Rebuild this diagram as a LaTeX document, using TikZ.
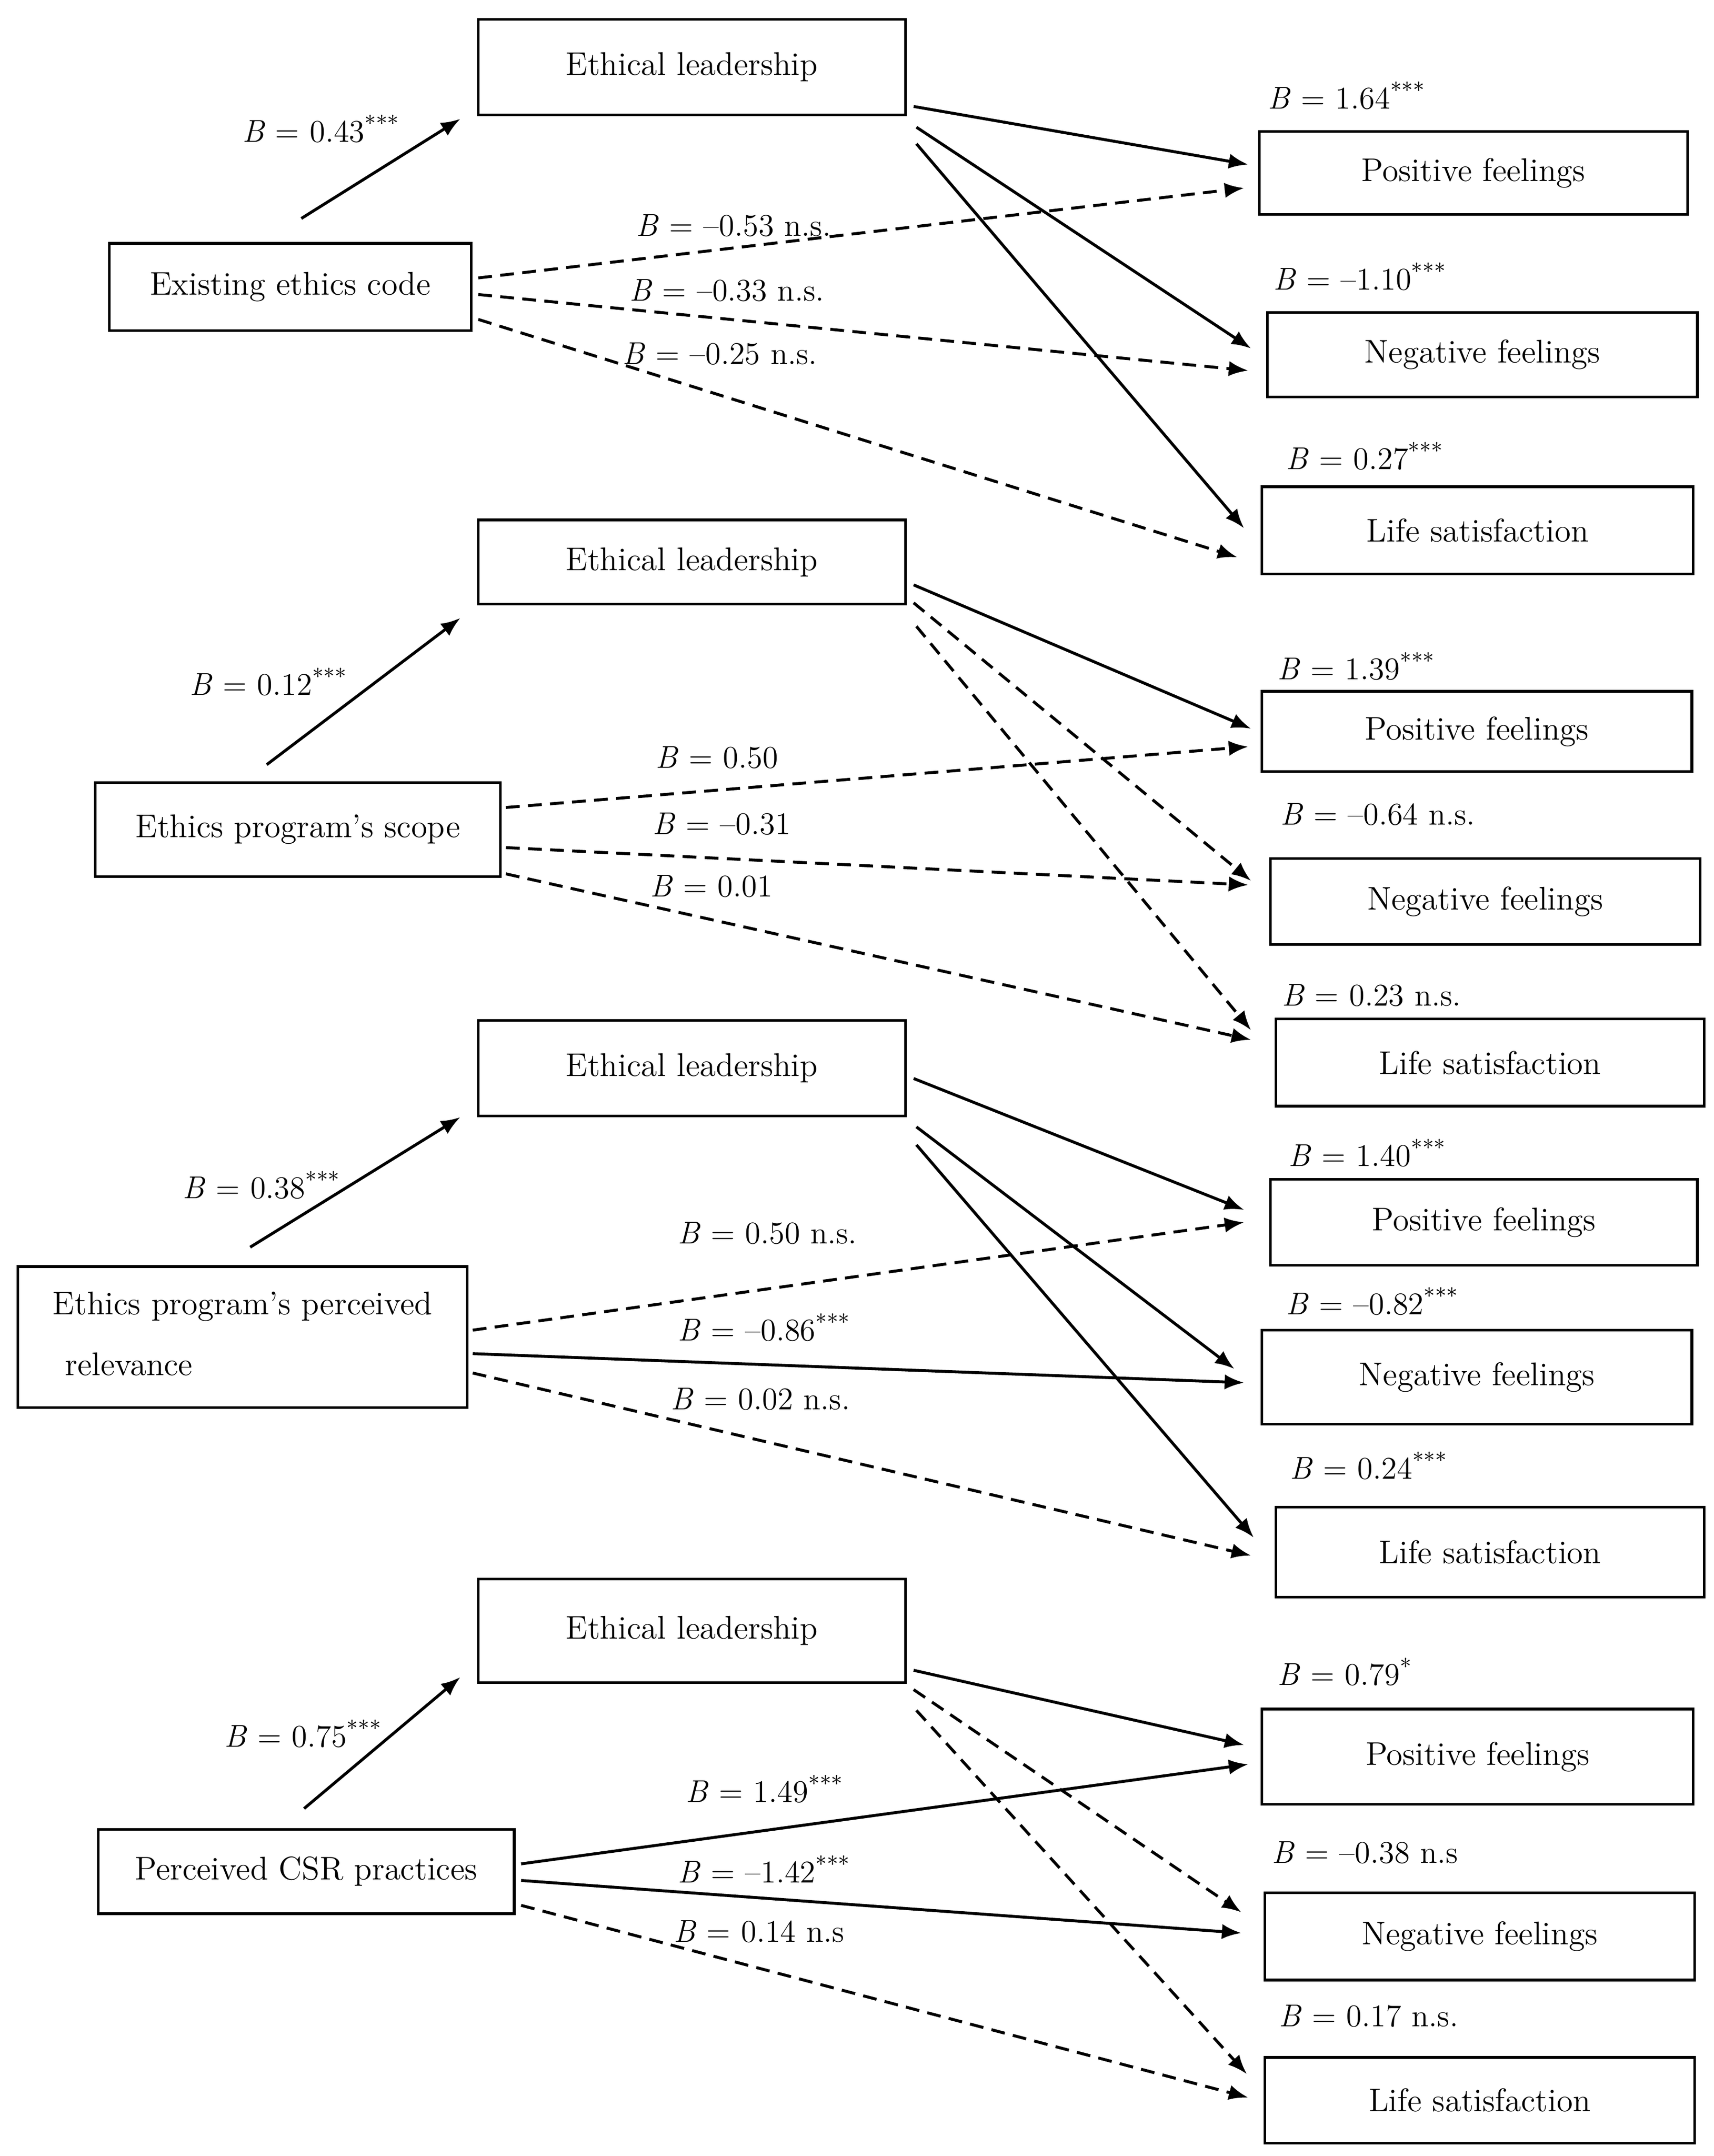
\documentclass[tikz,border=0pt]{standalone}
\usetikzlibrary{arrows.meta}
\newcommand\mybox[6]{%
  \pgfmathsetmacro\mybw{(#4-#2)*0.02}%
  \pgfmathsetmacro\mybh{(#5-#3)*0.02}%
  \node[box, minimum width=\mybw cm, minimum height=\mybh cm] (#1) at ({(#2+#4)/2},{(#3+#5)/2}) {#6};}
\begin{document}
\begin{tikzpicture}[x=0.02cm,y=-0.02cm,
  box/.style={draw, line width=1.1pt, inner sep=0pt, outer sep=0pt, font=\fontsize{13.5}{16}\selectfont},
  lbl/.style={anchor=west, inner sep=0pt, font=\fontsize{13}{16}\selectfont},
  conn/.style={line width=1.2pt, -{Latex[length=0.28cm,width=0.22cm]}},
  dsh/.style={conn, dash pattern=on 0.2cm off 0.12cm}]
\useasboundingbox (0,0) rectangle (1240,1559.3);

% ---------- Section 1 ----------
\mybox{el1}{346}{14}{655}{83}{Ethical leadership}
\mybox{ec}{79}{176}{341}{239}{Existing ethics code}
\mybox{pf1}{911}{95}{1221}{155}{Positive feelings}
\mybox{nf1}{917}{226}{1228}{287}{Negative feelings}
\mybox{ls1}{913}{352}{1225}{415}{Life satisfaction}

\draw[conn] ([shift={(8,-18)}]ec.north) -- ([shift={(-13,3)}]el1.south west);
\draw[conn] ([shift={(6,-6)}]el1.south east) -- ([shift={(-8,24)}]pf1.north west);
\draw[conn] ([shift={(8,9)}]el1.south east) -- ([shift={(-12,26)}]nf1.north west);
\draw[conn] ([shift={(8,21)}]el1.south east) -- ([shift={(-13,30)}]ls1.north west);
\draw[dsh] ([shift={(5,25)}]ec.north east) -- ([shift={(-11,41)}]pf1.north west);
\draw[dsh] ([shift={(5,37)}]ec.north east) -- ([shift={(-14,42)}]nf1.north west);
\draw[dsh] ([shift={(5,55)}]ec.north east) -- ([shift={(-18,51)}]ls1.north west);

\node[lbl] (l1a) at (175,93) {\textit{B} = 0.43\textsuperscript{***}};
\node[lbl] (l1b) at (917,69) {\textit{B} = 1.64\textsuperscript{***}};
\node[lbl] (l1c) at (921,200) {\textit{B} = --1.10\textsuperscript{***}};
\node[lbl] (l1d) at (930,330) {\textit{B} = 0.27\textsuperscript{***}};
\node[lbl] (l1e) at (460,163) {\textit{B} = --0.53 n.s.};
\node[lbl] (l1f) at (455,210) {\textit{B} = --0.33 n.s.};
\node[lbl] (l1g) at (450,256) {\textit{B} = --0.25 n.s.};

% ---------- Section 2 ----------
\mybox{el2}{346}{376}{655}{437}{Ethical leadership}
\mybox{sc}{69}{566}{362}{634}{Ethics program's scope}
\mybox{pf2}{913}{500}{1224}{558}{Positive feelings}
\mybox{nf2}{919}{621}{1230}{683}{Negative feelings}
\mybox{ls2}{923}{737}{1233}{800}{Life satisfaction}

\draw[conn] ([shift={(-22.5,-13)}]sc.north) -- ([shift={(-13,10)}]el2.south west);
\draw[conn] ([shift={(6,-14)}]el2.south east) -- ([shift={(-8,27)}]pf2.north west);
\draw[dsh] ([shift={(6,-1)}]el2.south east) -- ([shift={(-14,16)}]nf2.north west);
\draw[dsh] ([shift={(8,16)}]el2.south east) -- ([shift={(-18,8)}]ls2.north west);
\draw[dsh] ([shift={(4,18)}]sc.north east) -- ([shift={(-10,40)}]pf2.north west);
\draw[dsh] ([shift={(4,47)}]sc.north east) -- ([shift={(-16,19)}]nf2.north west);
\draw[dsh] ([shift={(4,66)}]sc.north east) -- ([shift={(-18,15)}]ls2.north west);

\node[lbl] (l2a) at (137,493) {\textit{B} = 0.12\textsuperscript{***}};
\node[lbl] (l2b) at (924,482) {\textit{B} = 1.39\textsuperscript{***}};
\node[lbl] (l2c) at (926,589) {\textit{B} = --0.64 n.s.};
\node[lbl] (l2d) at (927,720) {\textit{B} = 0.23 n.s.};
\node[lbl] (l2e) at (474,548) {\textit{B} = 0.50};
\node[lbl] (l2f) at (472,596) {\textit{B} = --0.31};
\node[lbl] (l2g) at (470,641) {\textit{B} = 0.01};

% ---------- Section 3 ----------
\mybox{el3}{346}{738}{655}{807}{Ethical leadership}
\mybox{rel}{13}{916}{338}{1018}{\begin{tabular}{@{}l@{}}Ethics program's perceived\\[9pt]\hspace*{0.18cm}relevance\end{tabular}}
\mybox{pf3}{919}{853}{1228}{915}{Positive feelings}
\mybox{nf3}{913}{962}{1224}{1030}{Negative feelings}
\mybox{ls3}{923}{1090}{1233}{1155}{Life satisfaction}

\draw[conn] ([shift={(5.5,-14)}]rel.north) -- ([shift={(-13,1)}]el3.south west);
\draw[conn] ([shift={(6,-27)}]el3.south east) -- ([shift={(-19,22)}]pf3.north west);
\draw[conn] ([shift={(8,8)}]el3.south east) -- ([shift={(-20,28)}]nf3.north west);
\draw[conn] ([shift={(8,21)}]el3.south east) -- ([shift={(-16,22)}]ls3.north west);
\draw[dsh] ([shift={(4,46)}]rel.north east) -- ([shift={(-19,31)}]pf3.north west);
\draw[conn] ([shift={(4,63)}]rel.north east) -- ([shift={(-13,38)}]nf3.north west);
\draw[dsh] ([shift={(4,77)}]rel.north east) -- ([shift={(-18,35)}]ls3.north west);

\node[lbl] (l3a) at (132,857) {\textit{B} = 0.38\textsuperscript{***}};
\node[lbl] (l3b) at (932,834) {\textit{B} = 1.40\textsuperscript{***}};
\node[lbl] (l3c) at (930,941) {\textit{B} = --0.82\textsuperscript{***}};
\node[lbl] (l3d) at (933,1060) {\textit{B} = 0.24\textsuperscript{***}};
\node[lbl] (l3e) at (490,892) {\textit{B} = 0.50 n.s.};
\node[lbl] (l3f) at (490,960) {\textit{B} = --0.86\textsuperscript{***}};
\node[lbl] (l3g) at (485,1012) {\textit{B} = 0.02 n.s.};

% ---------- Section 4 ----------
\mybox{el4}{346}{1142}{655}{1217}{Ethical leadership}
\mybox{csr}{71}{1323}{372}{1384}{Perceived CSR practices}
\mybox{pf4}{913}{1236}{1225}{1305}{Positive feelings}
\mybox{nf4}{915}{1369}{1226}{1432}{Negative feelings}
\mybox{ls4}{915}{1488}{1226}{1550}{Life satisfaction}

\draw[conn] ([shift={(-1.5,-15)}]csr.north) -- ([shift={(-13,-4)}]el4.south west);
\draw[conn] ([shift={(6,-9)}]el4.south east) -- ([shift={(-13,26)}]pf4.north west);
\draw[dsh] ([shift={(6,5)}]el4.south east) -- ([shift={(-17,14)}]nf4.north west);
\draw[dsh] ([shift={(8,20)}]el4.south east) -- ([shift={(-13,12)}]ls4.north west);
\draw[conn] ([shift={(5,25)}]csr.north east) -- ([shift={(-10,40)}]pf4.north west);
\draw[conn] ([shift={(5,37)}]csr.north east) -- ([shift={(-17,29)}]nf4.north west);
\draw[dsh] ([shift={(5,55)}]csr.north east) -- ([shift={(-12,29)}]ls4.north west);

\node[lbl] (l4a) at (162,1254) {\textit{B} = 0.75\textsuperscript{***}};
\node[lbl] (l4b) at (924,1209) {\textit{B} = 0.79\textsuperscript{*}};
\node[lbl] (l4c) at (920,1340) {\textit{B} = --0.38 n.s};
\node[lbl] (l4d) at (925,1458) {\textit{B} = 0.17 n.s.};
\node[lbl] (l4e) at (496,1294) {\textit{B} = 1.49\textsuperscript{***}};
\node[lbl] (l4f) at (490,1352) {\textit{B} = --1.42\textsuperscript{***}};
\node[lbl] (l4g) at (487,1397) {\textit{B} = 0.14 n.s};
\end{tikzpicture}
\end{document}
